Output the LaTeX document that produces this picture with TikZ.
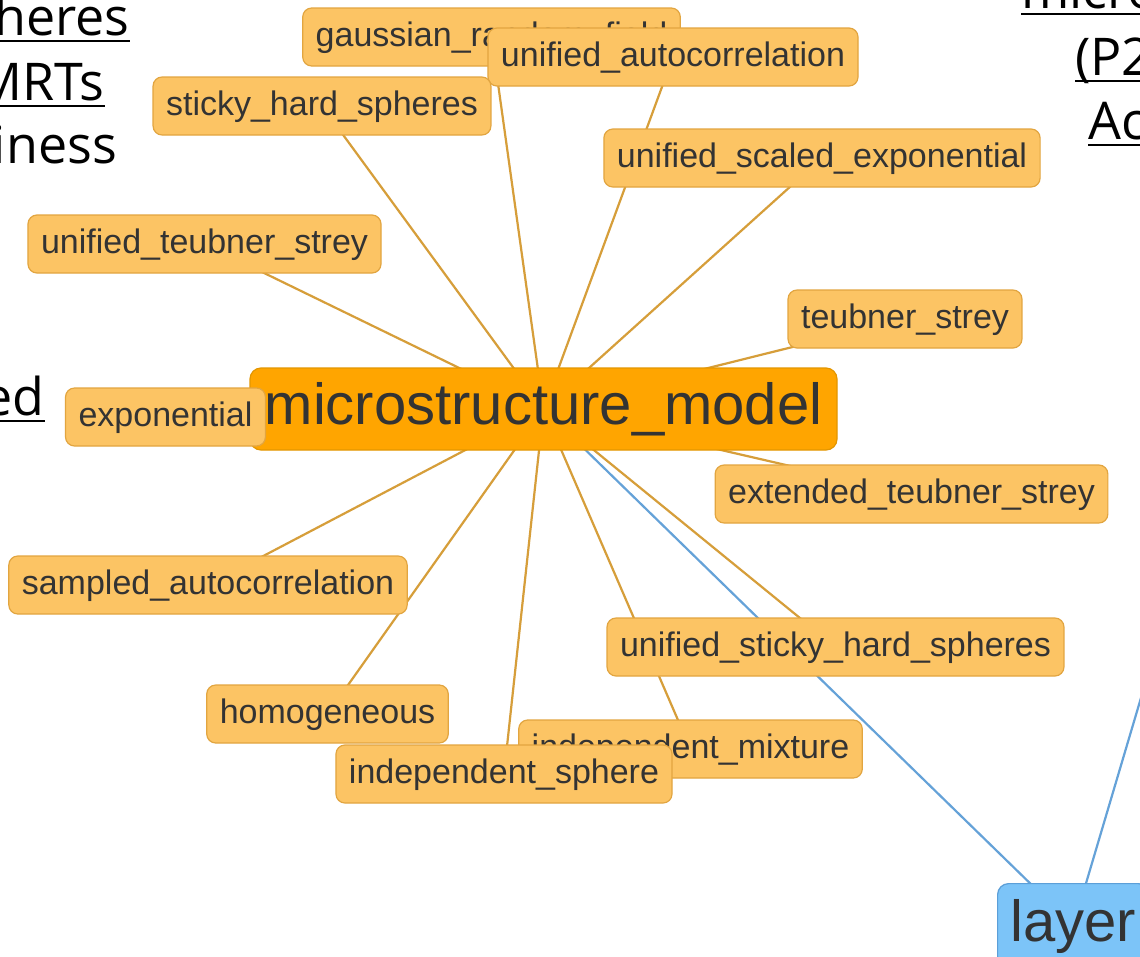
\documentclass[tikz,border=0pt]{standalone}
\usepackage{fontspec}
\setmainfont{Liberation Sans}
\newfontfamily\lblfont{Open Sans}
\definecolor{snfill}{HTML}{FCC464}
\definecolor{snborder}{HTML}{E2A540}
\definecolor{mainfill}{HTML}{FFA500}
\definecolor{mainborder}{HTML}{E39600}
\definecolor{layfill}{HTML}{7CC4F8}
\definecolor{layborder}{HTML}{5C9FD8}
\definecolor{oedge}{HTML}{D69E3A}
\definecolor{bedge}{HTML}{65A2D8}
\definecolor{txt}{HTML}{333333}
\pgfdeclarelayer{bg}
\pgfsetlayers{bg,main}
\tikzset{
  sn/.style={draw=snborder, fill=snfill, rounded corners=9pt, line width=1.2pt,
    minimum height=58pt, inner xsep=13pt, inner ysep=0pt, text height=25pt, text depth=7pt,
    font=\fontsize{34}{40}\selectfont, text=txt},
  mn/.style={draw=mainborder, fill=mainfill, rounded corners=11pt, line width=1.2pt,
    minimum height=82pt, minimum width=587pt, inner sep=0pt, text height=43pt, text depth=12pt,
    font=\fontsize{58}{66}\selectfont, text=txt},
  ln/.style={draw=layborder, fill=layfill, rounded corners=11pt, line width=1.2pt,
    minimum height=84pt, inner xsep=13pt, inner ysep=0pt, text height=43pt, text depth=12pt,
    font=\fontsize{58}{66}\selectfont, text=txt},
  oe/.style={draw=oedge, line width=2.2pt},
  be/.style={draw=bedge, line width=2.2pt},
  lbl/.style={inner sep=0pt, font=\lblfont\fontsize{52}{62}\selectfont, text=black},
  ul/.style={line width=2.6pt, black}
}
\begin{document}
\begin{tikzpicture}[x=1pt,y=-1pt]
\useasboundingbox (0,0) rectangle (1140,956);
\clip (0,0) rectangle (1140,956);

% nodes
\node[sn] (gauss) at (491.5,37) {gaussian\_random\_field};
\node[sn] (uauto) at (673,57) {unified\_autocorrelation};
\node[sn] (sticky) at (322,106) {sticky\_hard\_spheres};
\node[sn] (uscaled) at (822,158) {unified\_scaled\_exponential};
\node[sn] (uteub) at (204.5,244) {unified\_teubner\_strey};
\node[sn] (teub) at (905,319) {teubner\_strey};
\node[mn] (micro) at (543.5,409) {microstructure\_model};
\node[sn] (expo) at (165.5,417) {exponential};
\node[sn] (ext) at (911.5,494) {extended\_teubner\_strey};
\node[sn] (sampled) at (208,585) {sampled\_autocorrelation};
\node[sn] (usticky) at (835.5,647) {unified\_sticky\_hard\_spheres};
\node[sn] (homog) at (327.5,714) {homogeneous};
\node[sn] (indmix) at (690.5,749) {independent\_mixture};
\node[sn] (indsph) at (504,774) {independent\_sphere};
\node[ln, anchor=north west] (layer) at (997,883) {layer};
\coordinate (offtr) at (1170,600);

% edges
\begin{pgfonlayer}{bg}
\fill[white] (0,0) rectangle (1140,956);
\draw[oe] (micro.center) -- (gauss.center);
\draw[oe] (micro.center) -- (uauto.center);
\draw[oe] (micro.center) -- (sticky.center);
\draw[oe] (micro.center) -- (uscaled.center);
\draw[oe] (micro.center) -- (uteub.center);
\draw[oe] (micro.center) -- (teub.center);
\draw[oe] (micro.center) -- (expo.center);
\draw[oe] (micro.center) -- (ext.center);
\draw[oe] (micro.center) -- (sampled.center);
\draw[oe] (micro.center) -- (usticky.center);
\draw[oe] (micro.center) -- (homog.center);
\draw[oe] (micro.center) -- (indmix.center);
\draw[oe] (micro.center) -- (indsph.center);
\draw[be] (micro.center) -- (layer.center);
\draw[be] (layer.center) -- (offtr);
\end{pgfonlayer}

% cut-off labels
\node[lbl, anchor=base east] (l1) at (130,35) {heres};
\draw[ul] ([yshift=-6pt]l1.base west) -- ([yshift=-6pt]l1.base east);
\node[lbl, anchor=base east] (l2) at (105,100) {MRTs};
\draw[ul] ([yshift=-6pt]l2.base west) -- ([yshift=-6pt]l2.base east);
\node[lbl, anchor=base east] (l3) at (117,163) {iness};
\node[lbl, anchor=base east] (l4) at (45,415) {ed};
\draw[ul] ([yshift=-6pt]l4.base west) -- ([yshift=-6pt]l4.base east);
\node[lbl, anchor=base west] (r1) at (1021,8) {micro};
\draw[ul] ([yshift=-6pt]r1.base west) -- ([yshift=-6pt]r1.base east);
\node[lbl, anchor=base west] (r2) at (1075,75) {(P2};
\draw[ul] ([yshift=-6pt]r2.base west) -- ([yshift=-6pt]r2.base east);
\node[lbl, anchor=base west] (r3) at (1088,139) {Ac};
\draw[ul] ([yshift=-6pt]r3.base west) -- ([yshift=-6pt]r3.base east);
\end{tikzpicture}
\end{document}
